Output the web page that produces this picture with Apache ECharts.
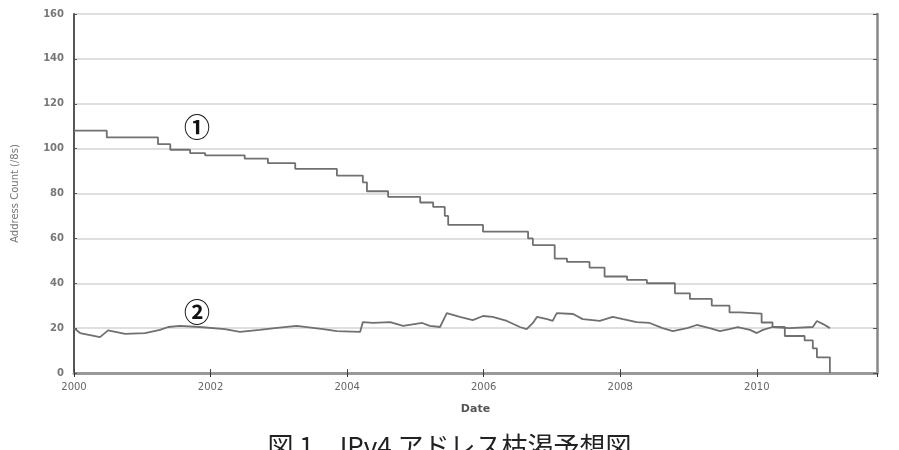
<!DOCTYPE html>
<html>
<head>
<meta charset="utf-8">
<script src="https://cdn.jsdelivr.net/npm/echarts@6/dist/echarts.min.js"></script>
<style>html,body{margin:0;padding:0;background:#fff}#c{width:899px;height:450px}</style>
</head>
<body>
<div id="c"></div>
<script>
// Year ticks and y ticks
var xTicks = [2000, 2002, 2004, 2006, 2008, 2010];
var yTicks = [0, 20, 40, 60, 80, 100, 120, 140, 160];

// Series 1: remaining /8 pool (step), [year, count]
var pool1Years = [2000.0,2000.48,2001.23,2001.41,2001.70,2001.92,2002.50,2002.84,2003.24,2003.85,2004.23,2004.29,2004.60,2005.07,2005.26,2005.43,2005.48,2005.99,2006.65,2006.72,2007.04,2007.22,2007.55,2007.77,2008.10,2008.39,2008.80,2009.02,2009.34,2009.60,2009.75,2010.07,2010.23,2010.41,2010.70,2010.82,2010.88,2011.07];
var pool1Values = [108,105,102,99.5,98,97,95.5,93.5,91,88,85,81,78.5,76,74,70,66,63,60,57,51,49.5,47,43,41.5,40,35.5,33,30,27,26.5,22.5,20.5,16.5,14.5,11,7,0];

// Series 2: yearly allocation rate, [year, count]
var rate2Years = [2000.00,2000.09,2000.38,2000.50,2000.75,2001.04,2001.26,2001.38,2001.55,2001.84,2002.21,2002.43,2002.72,2002.94,2003.26,2003.65,2003.85,2004.19,2004.23,2004.38,2004.63,2004.82,2005.10,2005.21,2005.36,2005.46,2005.65,2005.84,2005.99,2006.13,2006.34,2006.53,2006.63,2006.72,2006.78,2006.93,2007.01,2007.07,2007.31,2007.45,2007.70,2007.89,2008.04,2008.24,2008.43,2008.62,2008.77,2008.98,2009.12,2009.31,2009.46,2009.60,2009.72,2009.90,2010.00,2010.09,2010.23,2010.48,2010.82,2010.88,2010.97,2011.07];
var rate2Values = [20,17.8,16,19,17.4,17.8,19.2,20.5,21,20.5,19.6,18.3,19.2,20,21,19.6,18.7,18.3,22.7,22.3,22.7,21,22.3,21,20.5,26.7,25,23.6,25.4,25,23.2,20.5,19.6,22.3,25,24,23.2,26.7,26.3,24,23.2,25,24,22.7,22.3,20,18.7,20,21.4,20,18.7,19.6,20.5,19.2,17.8,19.2,20.5,20,20.5,23.2,21.8,20];

// Annotation labels
var labels = ['①', '②'];
var labelPos = [[2001.8, 109.5], [2001.8, 27.2]];

var xMin = 2000, xMax = 2011.76;

function zip(a, b) { return a.map(function (v, i) { return [v, b[i]]; }); }

var chart = echarts.init(document.getElementById('c'), null, {renderer: 'canvas'});
var lineColor = '#707070';
chart.setOption({
  backgroundColor: '#fff',
  animation: false,
  title: {
    text: '図 1　IPv4 アドレス枯渇予想図',
    left: 'center',
    top: 428,
    textStyle: {fontFamily: 'Noto Sans CJK JP', fontWeight: 'normal', fontSize: 26, color: '#222'}
  },
  grid: {left: 74, right: 22, top: 14, bottom: 77},
  xAxis: [{
    type: 'value', min: xMin, max: xMax, interval: 2,
    name: 'Date', nameLocation: 'middle', nameGap: 31,
    nameTextStyle: {fontFamily: 'DejaVu Sans', fontSize: 11, fontWeight: 'bold', color: '#555'},
    axisLine: {lineStyle: {color: '#555', width: 2}},
    axisTick: {inside: true, length: 4, lineStyle: {color: '#444'}},
    axisLabel: {fontFamily: 'DejaVu Sans', fontSize: 10, color: '#666', margin: 9, showMaxLabel: false,
      formatter: function (v) { return xTicks.indexOf(v) >= 0 ? String(v) : ''; }},
    splitLine: {show: false}
  }, {
    type: 'value', position: 'top', min: xMin, max: xMax, interval: 2,
    axisLine: {show: true, lineStyle: {color: '#999', width: 3}},
    axisTick: {show: true, inside: true, length: 4, lineStyle: {color: '#333'}},
    axisLabel: {show: false}, splitLine: {show: false}
  }],
  yAxis: [{
    type: 'value', min: 0, max: 160, interval: 20,
    name: 'Address Count (/8s)', nameLocation: 'middle', nameGap: 54, nameRotate: 90,
    nameTextStyle: {fontFamily: 'DejaVu Sans', fontSize: 10, color: '#777', padding: [0, 0, 0, 0]},
    axisLine: {show: true, lineStyle: {color: '#555', width: 2}},
    axisTick: {show: true, inside: true, length: 3, lineStyle: {color: '#555'}},
    axisLabel: {fontFamily: 'DejaVu Sans', fontSize: 10, fontWeight: 'bold', color: '#777', margin: 10,
      formatter: function (v) { return yTicks.indexOf(v) >= 0 ? String(v) : ''; }},
    splitLine: {show: true, lineStyle: {color: '#d4d4d4', width: 1.5}}
  }, {
    type: 'value', position: 'right', min: 0, max: 160, interval: 20,
    axisLine: {show: true, lineStyle: {color: '#888', width: 2.5}},
    axisTick: {show: true, inside: true, length: 4, lineStyle: {color: '#555'}},
    axisLabel: {show: false}, splitLine: {show: false}
  }],
  series: [{
    type: 'line', step: 'end', data: zip(pool1Years, pool1Values),
    showSymbol: false, lineStyle: {color: lineColor, width: 1.8},
    markPoint: {
      symbol: 'circle', symbolSize: 1, itemStyle: {color: 'rgba(0,0,0,0)'},
      label: {show: true, formatter: labels[0], fontSize: 26, fontWeight: 'bold', color: '#111', fontFamily: 'Noto Sans CJK JP', position: 'inside'},
      data: [{coord: labelPos[0]}]
    }
  }, {
    type: 'line', data: zip(rate2Years, rate2Values),
    showSymbol: false, lineStyle: {color: lineColor, width: 1.8},
    markPoint: {
      symbol: 'circle', symbolSize: 1, itemStyle: {color: 'rgba(0,0,0,0)'},
      label: {show: true, formatter: labels[1], fontSize: 26, fontWeight: 'bold', color: '#111', fontFamily: 'Noto Sans CJK JP', position: 'inside'},
      data: [{coord: labelPos[1]}]
    }
  }]
});
</script>
</body>
</html>
